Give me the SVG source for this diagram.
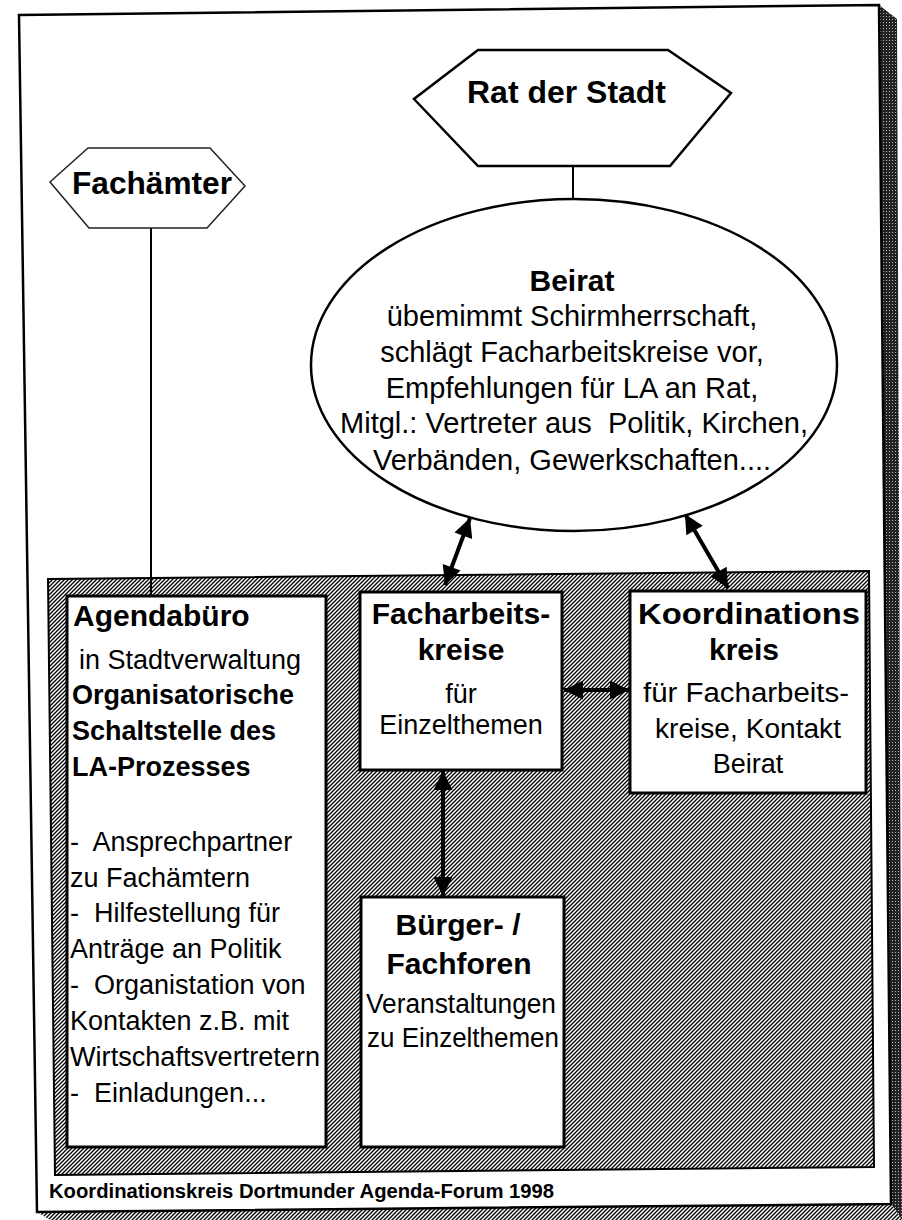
<svg xmlns="http://www.w3.org/2000/svg" width="902" height="1220" viewBox="0 0 902 1220">
<style>
text{font-family:"Liberation Sans",Arial,sans-serif;fill:#000;white-space:pre}
.b{font-weight:bold}
.h1{font-size:30px;font-weight:bold}
.h2{font-size:27px;font-weight:bold}
.r{font-size:27px}
.e{font-size:29px}
.m{text-anchor:middle}
.box{fill:#fff;stroke:#000;stroke-width:3}
.ln{stroke:#000;stroke-width:2;fill:none}
.arr{stroke:#000;stroke-width:4;fill:none;marker-start:url(#ah);marker-end:url(#ah)}
</style>
<defs>
<pattern id="hatch" patternUnits="userSpaceOnUse" width="4" height="4">
<rect width="4" height="4" fill="#fff"/>
<path d="M-1,1 L1,-1 M0,4 L4,0 M3,5 L5,3" stroke="#000" stroke-width="1.3"/>
</pattern>
<pattern id="dots" patternUnits="userSpaceOnUse" width="3" height="3">
<rect width="3" height="3" fill="#222"/>
<rect x="1" y="1" width="1" height="1" fill="#bbb"/>
</pattern>
<marker id="ah" viewBox="0 0 10 10" refX="10" refY="5" markerWidth="24" markerHeight="19" markerUnits="userSpaceOnUse" orient="auto-start-reverse">
<path d="M0,0 L10,5 L0,10 z" fill="#000"/>
</marker>
</defs>

<g id="page">
<polygon points="879,5 897,19 902,1220 891,1204" fill="url(#dots)"/>
<polygon points="37,1212 891,1204 902,1220 50,1220" fill="url(#hatch)"/>
<polygon points="19,15 879,5 891,1204 37,1212" fill="#fff" stroke="#000" stroke-width="2.5"/>
<polygon id="panel" points="48,579 869,571 874,1167 55,1175" fill="url(#hatch)" stroke="#000" stroke-width="2"/>
</g>

<g id="connectors">
<line class="ln" x1="573" y1="166" x2="573" y2="200"/>
<line class="ln" x1="151" y1="228" x2="151" y2="597" stroke-width="1.6"/>
<line class="arr" x1="470" y1="518" x2="445" y2="585"/>
<line class="arr" x1="685" y1="514" x2="728" y2="588"/>
<line class="arr" x1="564" y1="690" x2="629" y2="690"/>
<line class="arr" x1="443" y1="771" x2="443" y2="896"/>
</g>

<g id="rat">
<polygon points="478,50 668,50 731,93 670,166 478,166 414,99" fill="#fff" stroke="#000" stroke-width="2.5"/>
<text class="b" x="467" y="103" font-size="31" textLength="199" lengthAdjust="spacingAndGlyphs">Rat der Stadt</text>
</g>

<g id="fachaemter">
<polygon points="88,148 210,148 245,186 207,228 89,228 50,182" fill="#fff" stroke="#222" stroke-width="1.5"/>
<text class="b" x="72" y="194" font-size="31" textLength="160" lengthAdjust="spacingAndGlyphs">Fachämter</text>
</g>

<g id="beirat">
<ellipse cx="574" cy="365" rx="263" ry="166" fill="#fff" stroke="#000" stroke-width="2.5"/>
<text class="h1 m" x="572" y="291">Beirat</text>
<text class="e m" x="572" y="326">übemimmt Schirmherrschaft,</text>
<text class="e m" x="572" y="362">schlägt Facharbeitskreise vor,</text>
<text class="e m" x="572" y="398">Empfehlungen für LA an Rat,</text>
<text class="e m" x="574" y="433" textLength="468" lengthAdjust="spacingAndGlyphs">Mitgl.: Vertreter aus  Politik, Kirchen,</text>
<text class="e m" x="572" y="470">Verbänden, Gewerkschaften....</text>
</g>

<g id="agendabuero">
<rect class="box" x="67" y="596" width="259" height="551"/>
<text class="h1" x="73" y="626">Agendabüro</text>
<text class="r" x="79" y="669">in Stadtverwaltung</text>
<text class="h2" x="72" y="704">Organisatorische</text>
<text class="h2" x="72" y="740">Schaltstelle des</text>
<text class="h2" x="72" y="776">LA-Prozesses</text>
<text class="r" x="70" y="851">-  Ansprechpartner</text>
<text class="r" x="70" y="887">zu Fachämtern</text>
<text class="r" x="70" y="922">-  Hilfestellung für</text>
<text class="r" x="70" y="958">Anträge an Politik</text>
<text class="r" x="70" y="994">-  Organistation von</text>
<text class="r" x="70" y="1030">Kontakten z.B. mit</text>
<text class="r" x="70" y="1066" textLength="250" lengthAdjust="spacingAndGlyphs">Wirtschaftsvertretern</text>
<text class="r" x="70" y="1102">-  Einladungen...</text>
</g>

<g id="facharbeitskreise">
<rect class="box" x="360" y="592" width="202" height="178"/>
<text class="h1 m" x="461" y="624">Facharbeits-</text>
<text class="h1 m" x="461" y="660">kreise</text>
<text class="r m" x="461" y="703">für</text>
<text class="r m" x="461" y="734">Einzelthemen</text>
</g>

<g id="koordinationskreis">
<rect class="box" x="630" y="591" width="236" height="202"/>
<text class="h1 m" x="749" y="624" textLength="222" lengthAdjust="spacingAndGlyphs">Koordinations</text>
<text class="h1 m" x="744" y="660">kreis</text>
<text class="r m" x="746" y="702" textLength="206" lengthAdjust="spacingAndGlyphs">für Facharbeits-</text>
<text class="r m" x="748" y="738" textLength="186" lengthAdjust="spacingAndGlyphs">kreise, Kontakt</text>
<text class="r m" x="748" y="773">Beirat</text>
</g>

<g id="buerger">
<rect class="box" x="361" y="897" width="203" height="250"/>
<text class="h1 m" x="458" y="935">Bürger- /</text>
<text class="h1 m" x="459" y="974">Fachforen</text>
<text class="r m" x="461" y="1013" textLength="190" lengthAdjust="spacingAndGlyphs">Veranstaltungen</text>
<text class="r m" x="463" y="1047" textLength="192" lengthAdjust="spacingAndGlyphs">zu Einzelthemen</text>
</g>

<text class="b" x="49" y="1198" font-size="20" textLength="505" lengthAdjust="spacingAndGlyphs">Koordinationskreis Dortmunder Agenda-Forum 1998</text>
</svg>
